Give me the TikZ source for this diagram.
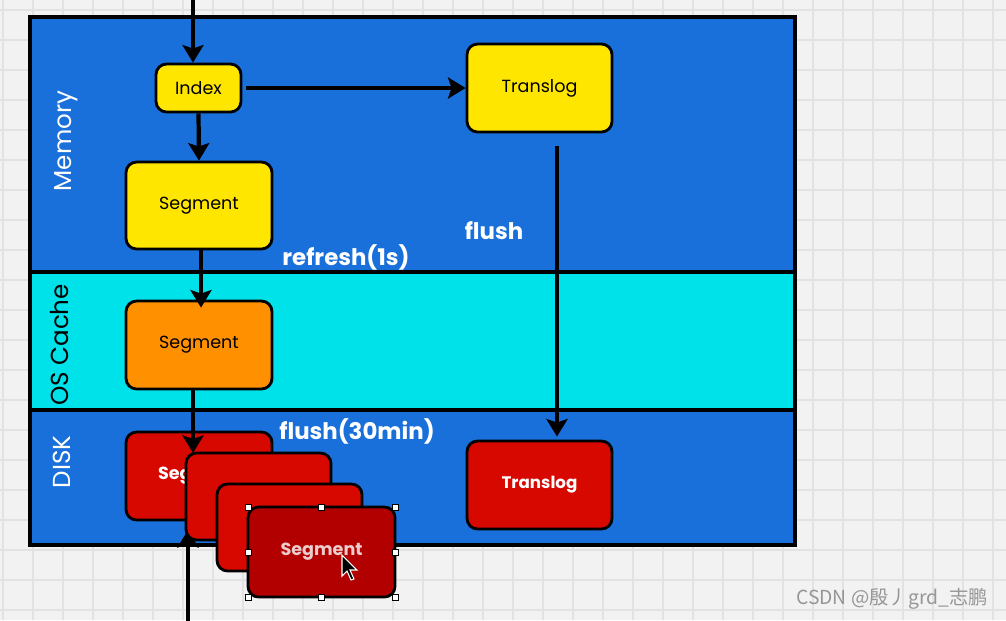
\documentclass[tikz,border=0pt]{standalone}
\usepackage{fontspec}
\setmainfont{Poppins}
\newfontfamily\cjk{Noto Sans CJK SC}
\usetikzlibrary{positioning,arrows.meta}
\definecolor{memblue}{RGB}{26,112,219}
\definecolor{oscyan}{RGB}{0,226,234}
\definecolor{boxyellow}{RGB}{255,230,0}
\definecolor{boxorange}{RGB}{255,145,0}
\definecolor{boxred}{RGB}{214,8,0}
\definecolor{boxdark}{RGB}{178,0,0}
\definecolor{paper}{RGB}{242,242,242}
\definecolor{gridgray}{RGB}{226,226,226}

\begin{document}
\begin{tikzpicture}[x=0.02cm,y=-0.02cm,
  box/.style={draw=black,line width=1.6pt,rounded corners=6pt,inner sep=0pt,
    font=\fontsize{10}{12}\selectfont},
  flow/.style={line width=2.4pt,-{Stealth[length=10pt,width=12pt,inset=2pt]}},
  lbl/.style={text=white,font=\bfseries\fontsize{13}{15}\selectfont},
  band/.style={rotate=90,font=\fontsize{14}{16}\selectfont}]
\useasboundingbox (0,0) rectangle (1006,620);
\fill[paper] (0,0) rectangle (1006,620);
\foreach \x in {3,33,...,1003} \draw[gridgray,line width=0.8pt] (\x,0) -- (\x,620);
\foreach \y in {10,40,...,610} \draw[gridgray,line width=0.8pt] (0,\y) -- (1006,\y);

% storage layers
\fill[memblue] (30,17) rectangle (795,272);
\fill[oscyan] (30,272) rectangle (795,410);
\fill[memblue] (30,410) rectangle (795,545);
\draw[line width=2.2pt] (30,272) -- (795,272) (30,410) -- (795,410);
\draw[line width=2.2pt] (30,17) rectangle (795,545);
\node[band,text=white] (memlbl) at (66,141) {Memory};
\node[band] (oslbl) at (60,345) {OS Cache};
\node[band,text=white] (disklbl) at (62,462) {DISK};

% memory
\node[box,fill=boxyellow,minimum width=1.7cm,minimum height=0.96cm] (idx) at (198.5,88) {Index};
\node[box,fill=boxyellow,minimum width=2.9cm,minimum height=1.76cm] (tlog) at (539.5,88) {Translog};
\node[box,fill=boxyellow,minimum width=2.92cm,minimum height=1.74cm] (segm) at (199,205.5) {Segment};
\node[lbl] (flushlbl) at (494,231) {flush};
\node[lbl] (reflbl) at (346,257) {refresh(1s)};

% os cache
\node[box,fill=boxorange,minimum width=2.92cm,minimum height=1.76cm] (sego) at (199,345) {Segment};

% disk
\node[lbl] (flush30) at (357,431) {flush(30min)};
\node[box,fill=boxred,text=white,minimum width=2.9cm,minimum height=1.76cm,font=\bfseries\fontsize{9.5}{12}\selectfont] (tlogd) at (539.5,485) {Translog};
\node[box,fill=boxred,text=white,minimum width=2.92cm,minimum height=1.76cm,font=\bfseries\fontsize{10}{12}\selectfont] (seg1) at (199,476) {Segment};

\coordinate (src) at (193,-5);
\coordinate (d1) at (193,453);
\coordinate (bot) at (188,625);
\coordinate (bottip) at (188,530);
\draw[flow] (src) -- (src |- idx.north);
\draw[flow] (idx.south) -- (segm.north);
\draw[flow] ([xshift=0.08cm]idx.east) -- (tlog.west);
\draw[flow] ([xshift=0.04cm]segm.south) -- ([xshift=0.04cm,yshift=-0.16cm]sego.north);
\draw[flow] (sego.south -| d1) -- (d1);
\draw[flow] ([xshift=0.35cm,yshift=-0.26cm]tlog.south) -- ([xshift=0.35cm,yshift=0.06cm]tlogd.north);
\draw[flow] (bot) -- (bottip);

\node[box,fill=boxred,minimum width=2.9cm,minimum height=1.74cm] (seg2) at (258.5,496.5) {};
\node[box,fill=boxred,minimum width=2.9cm,minimum height=1.74cm] (seg3) at (289.5,527.5) {};
\node[box,fill=boxdark,text={rgb,255:red,235;green,205;blue,205},minimum width=2.94cm,minimum height=1.8cm,font=\bfseries\fontsize{10}{12}\selectfont] (seg4) at (321.5,552) {Segment};

% selection handles
\foreach \p in {(248,507),(321.5,507),(395,507),(248,552),(395,552),(248,597),(321.5,597),(395,597)}
  \draw[fill=white,line width=0.5pt] \p ++(-3,-3) rectangle ++(6,6);
\filldraw[fill=black,draw=white,line width=0.6pt] (342,555) -- (342,576) -- (347,571) -- (351,580) -- (354,579) -- (350,570) -- (357,570) -- cycle;

\node[anchor=east,text={rgb,255:red,150;green,150;blue,150},font=\cjk\fontsize{11}{13}\selectfont] (mark) at (994,599) {CSDN @殷丿grd\_志鹏};
\end{tikzpicture}
\end{document}
